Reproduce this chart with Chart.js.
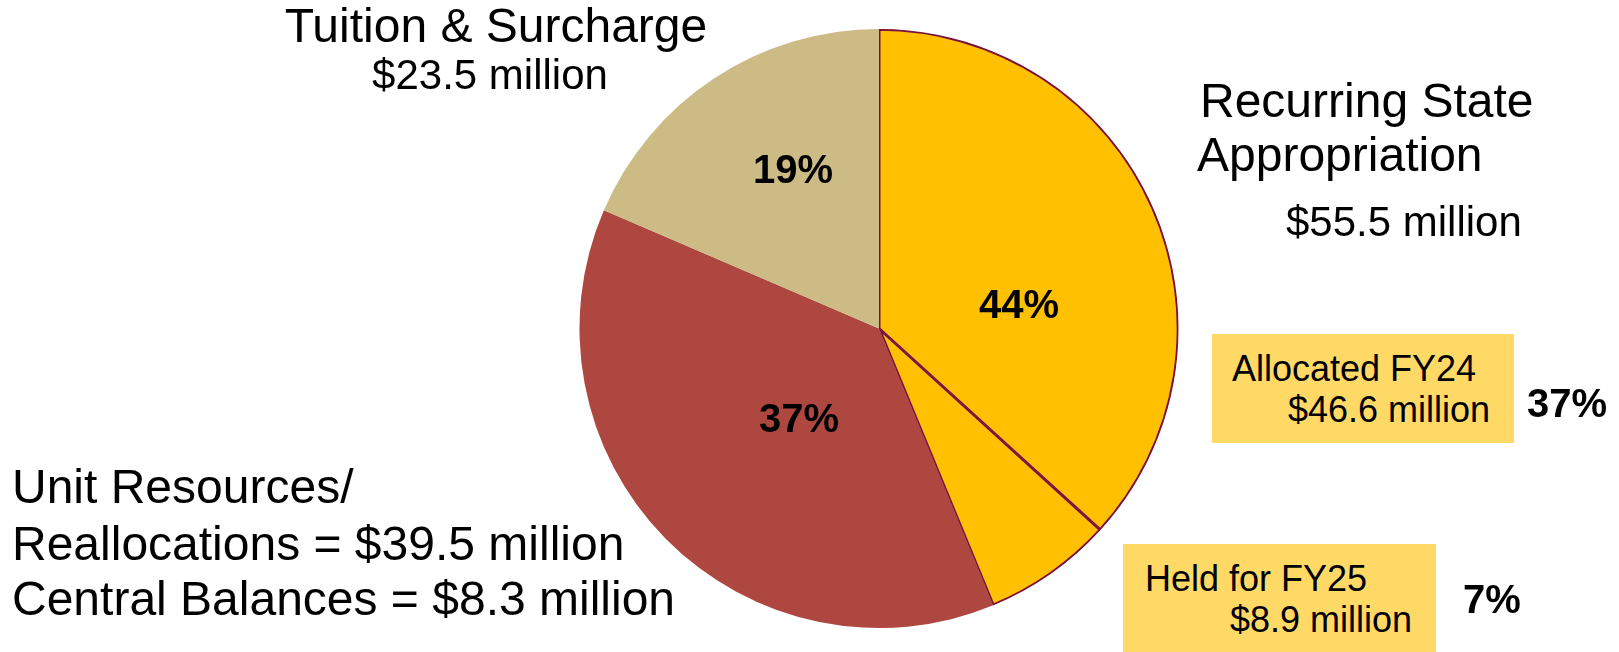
<!DOCTYPE html>
<html>
<head>
<meta charset="utf-8">
<script src="https://cdn.jsdelivr.net/npm/chart.js"></script>
<style>
  html, body { margin: 0; padding: 0; background: #fff; }
  #wrap { position: relative; width: 1619px; height: 652px; overflow: hidden; font-family: "Liberation Sans", Arial, sans-serif; color: #000; }
  #pie { position: absolute; left: 0; top: 0; }
  .box { position: absolute; background: #FFD966; }
  .txt { position: absolute; white-space: nowrap; line-height: 1; }
</style>
</head>
<body>
<div id="wrap">
  <canvas id="pie" width="1619" height="652"></canvas>
</div>
<script>
// slices, clockwise from 12 o'clock
const categories = ['Allocated FY24', 'Held for FY25', 'Unit Resources / Central Balances', 'Tuition & Surcharge'];
const amounts = [46.6, 8.9, 47.8, 23.5];   // $ million (39.5 + 8.3 for the red slice)
const sliceColors = ['#FFC000', '#FFC000', '#AD4740', '#CCBB84'];
const pctLabels = ['44%', '37%', '19%', '37%', '7%'];

const wrap = document.getElementById('wrap');

function place(text, x, baseline, size, align, bold) {
    const d = document.createElement('div');
    d.className = 'txt';
    d.textContent = text;
    d.style.fontSize = size + 'px';
    d.style.top = (baseline - 0.8465 * size) + 'px';
    d.style.left = x + 'px';
    if (bold) d.style.fontWeight = 'bold';
    if (align === 'center') d.style.transform = 'translateX(-50%)';
    if (align === 'right') d.style.transform = 'translateX(-100%)';
    wrap.appendChild(d);
}

function box(x, y, w, h) {
    const b = document.createElement('div');
    b.className = 'box';
    b.style.left = x + 'px';
    b.style.top = y + 'px';
    b.style.width = w + 'px';
    b.style.height = h + 'px';
    wrap.appendChild(b);
}

new Chart(document.getElementById('pie'), {
    type: 'pie',
    data: {
        labels: categories,
        datasets: [{
            data: amounts,
            backgroundColor: sliceColors,
            borderColor: ['#7A1042', '#7A1042', '#AD4740', '#CCBB84'],
            borderWidth: [1.5, 1.5, 0, 0],
            borderAlign: ['inner', 'inner', 'center', 'center']
        }]
    },
    options: {
        responsive: false,
        animation: false,
        layout: { padding: { left: 579, right: 440, top: 29, bottom: 24 } },
        plugins: {
            legend: { display: false },
            tooltip: { enabled: false }
        }
    }
});

// labels round the pie
place('Tuition & Surcharge', 496, 43, 48, 'center');
place('$' + amounts[3] + ' million', 490, 90, 42, 'center');

place('Recurring State', 1200, 118, 48, 'left');
place('Appropriation', 1197, 172, 48, 'left');
place('$' + (amounts[0] + amounts[1]).toFixed(1) + ' million', 1286, 237, 42, 'left');

box(1212, 334, 302, 109);
place(categories[0], 1232, 381, 36, 'left');
place('$' + amounts[0] + ' million', 1490, 422, 36, 'right');
place(pctLabels[3], 1527, 417, 40, 'left', true);

box(1123, 544, 313, 108);
place(categories[1], 1145, 591, 36, 'left');
place('$' + amounts[1] + ' million', 1412, 632, 36, 'right');
place(pctLabels[4], 1463, 613, 40, 'left', true);

place('Unit Resources/', 12, 504, 48, 'left');
place('Reallocations = $39.5 million', 12, 561, 48, 'left');
place('Central Balances = $8.3 million', 12, 616, 48, 'left');

// percentages inside the pie
place(pctLabels[0], 979, 318, 40, 'left', true);
place(pctLabels[1], 759, 432, 40, 'left', true);
place(pctLabels[2], 753, 183, 40, 'left', true);
</script>
</body>
</html>
